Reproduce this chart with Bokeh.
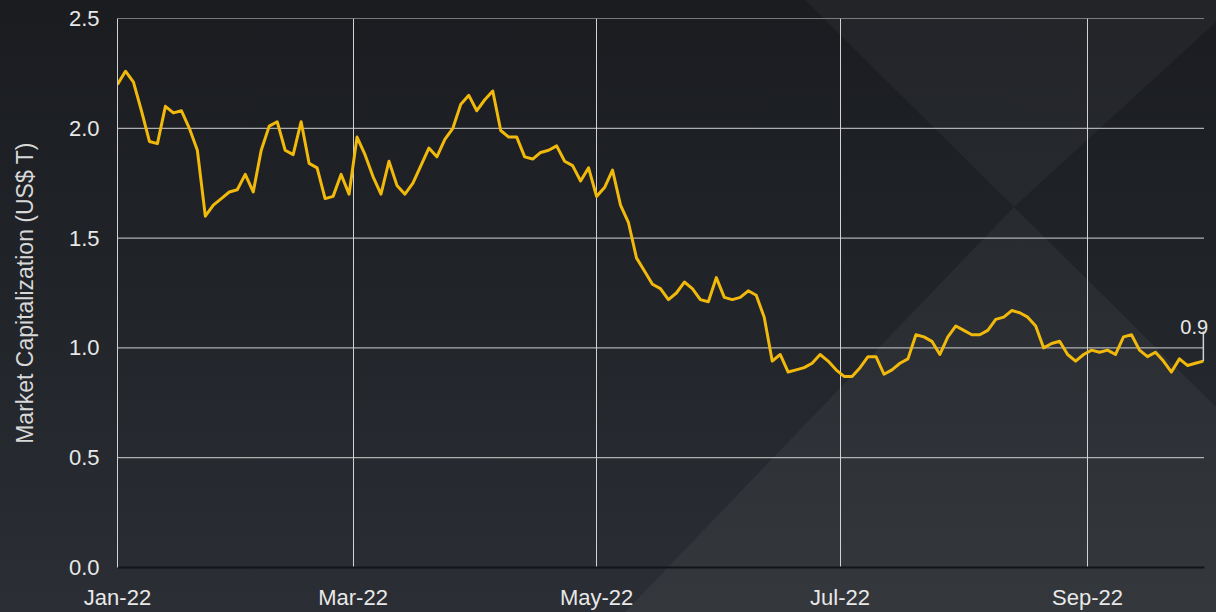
from datetime import datetime
from urllib.parse import quote

import pandas as pd
from bokeh.plotting import figure
from bokeh.models import (Range1d, FixedTicker, DatetimeTickFormatter, PrintfTickFormatter,
                          Label, ColumnDataSource)
from bokeh.embed import file_html
from bokeh.resources import INLINE

# ---------------- data ----------------
market_cap = [2.20, 2.26, 2.21, 2.08, 1.94, 1.93, 2.10, 2.07, 2.08, 2.00,
              1.90, 1.60, 1.65, 1.68, 1.71, 1.72, 1.79, 1.71, 1.90, 2.01,
              2.03, 1.90, 1.88, 2.03, 1.84, 1.82, 1.68, 1.69, 1.79, 1.70,
              1.96, 1.88, 1.78, 1.70, 1.85, 1.74, 1.70, 1.75, 1.83, 1.91,
              1.87, 1.95, 2.00, 2.11, 2.15, 2.08, 2.13, 2.17, 1.99, 1.96,
              1.96, 1.87, 1.86, 1.89, 1.90, 1.92, 1.85, 1.83, 1.76, 1.82,
              1.69, 1.73, 1.81, 1.65, 1.57, 1.41, 1.35, 1.29, 1.27, 1.22,
              1.25, 1.30, 1.27, 1.22, 1.21, 1.32, 1.23, 1.22, 1.23, 1.26,
              1.24, 1.14, 0.94, 0.97, 0.89, 0.90, 0.91, 0.93, 0.97, 0.94,
              0.90, 0.87, 0.87, 0.91, 0.96, 0.96, 0.88, 0.90, 0.93, 0.95,
              1.06, 1.05, 1.03, 0.97, 1.05, 1.10, 1.08, 1.06, 1.06, 1.08,
              1.13, 1.14, 1.17, 1.16, 1.14, 1.10, 1.00, 1.02, 1.03, 0.97,
              0.94, 0.97, 0.99, 0.98, 0.99, 0.97, 1.05, 1.06, 0.99, 0.96,
              0.98, 0.94, 0.89, 0.95, 0.92, 0.93, 0.94]
dates = pd.date_range("2022-01-01", periods=len(market_cap), freq="2D")

x_tick_dates = ["2022-01-01", "2022-03-01", "2022-05-01", "2022-07-01", "2022-09-01"]
y_ticks = [0.0, 0.5, 1.0, 1.5, 2.0, 2.5]
y_title = "Market Capitalization (US$ T)"

x_start = datetime(2022, 1, 1)
x_end = datetime(2022, 9, 30, 4)        # end of the charted period (grid/axis extent)
view_end = datetime(2022, 10, 3, 7)     # frame runs to the page edge so the end label can overflow

FONT = "Liberation Sans"
TXT = "#e8e8e8"
GRID = "#d2d2d2"
LINE = "#F0B90B"


def ms(d):
    return pd.Timestamp(d).timestamp() * 1000


src = ColumnDataSource(dict(date=dates, cap=market_cap))

p = figure(width=1208, height=604, x_axis_type="datetime",
           x_range=Range1d(x_start, view_end),
           y_range=Range1d(0, 2.5),
           output_backend="svg", toolbar_location=None,
           min_border_left=109, min_border_right=0, min_border_top=10, min_border_bottom=40)

p.background_fill_color = None
p.border_fill_color = None
p.outline_line_color = None

# horizontal grid lines limited to the charted period
grid_y = [v for v in y_ticks if v > 0]
p.segment(x0=[x_start] * len(grid_y), x1=[x_end] * len(grid_y), y0=grid_y, y1=grid_y,
          line_color=GRID, line_width=1, level="underlay")
p.ygrid.grid_line_color = None

p.line("date", "cap", source=src, line_color=LINE, line_width=3, line_join="round")

# leader + end label
last_x = dates[-1]
last_y = market_cap[-1]
p.segment(x0=[last_x], y0=[last_y], x1=[last_x], y1=[last_y + 0.135],
          line_color=GRID, line_width=1.5)
p.add_layout(Label(x=ms(last_x), y=last_y, y_offset=34, x_offset=-23,
                   text=f"{last_y:.1f}", text_align="left", text_baseline="alphabetic",
                   text_color=TXT, text_font=FONT, text_font_size="20px"))

# axes
p.xaxis.ticker = FixedTicker(ticks=[ms(d) for d in x_tick_dates])
p.xaxis.formatter = DatetimeTickFormatter(days="%b-%y", months="%b-%y", years="%b-%y")
p.xaxis.bounds = (ms(x_start), ms(x_end))
p.yaxis.ticker = FixedTicker(ticks=y_ticks)
p.yaxis.formatter = PrintfTickFormatter(format="%.1f")

for ax in (p.xaxis[0], p.yaxis[0]):
    ax.major_tick_line_color = None
    ax.minor_tick_line_color = None
    ax.major_label_text_color = TXT
    ax.major_label_text_font = FONT
    ax.major_label_text_font_size = "22px"

p.yaxis.axis_line_color = GRID
p.yaxis.axis_line_width = 1
p.yaxis.major_label_standoff = 12
p.yaxis.axis_label = y_title
p.yaxis.axis_label_text_font = FONT
p.yaxis.axis_label_text_font_size = "23px"
p.yaxis.axis_label_text_font_style = "normal"
p.yaxis.axis_label_text_color = "#d8d8d8"
p.yaxis.axis_label_standoff = 28

p.xaxis.axis_line_color = "#141518"
p.xaxis.axis_line_width = 2
p.xaxis.major_label_standoff = 11

p.xgrid.grid_line_color = GRID
p.xgrid.grid_line_width = 1

# decorative background (diamond pattern)
svg = ("<svg xmlns='http://www.w3.org/2000/svg' width='1216' height='612'>"
       "<polygon points='805,0 1240,0 1014,207' fill='white' fill-opacity='0.04'/>"
       "<polygon points='1014,207 1216,407 1216,612 625,612' fill='white' fill-opacity='0.045'/>"
       "</svg>")
css = ("<style>html{background:url(\"data:image/svg+xml," + quote(svg, safe="") + "\") no-repeat 0 0 / 1216px 612px,"
       "linear-gradient(180deg,#1a1c20 0%,#22252a 55%,#2b2e34 100%);background-attachment:fixed;overflow:hidden;}"
       "body{margin:8px;}</style></head>")

html = file_html(p, INLINE)
html = html.replace("</head>", css, 1)
open("out.html", "w").write(html)
